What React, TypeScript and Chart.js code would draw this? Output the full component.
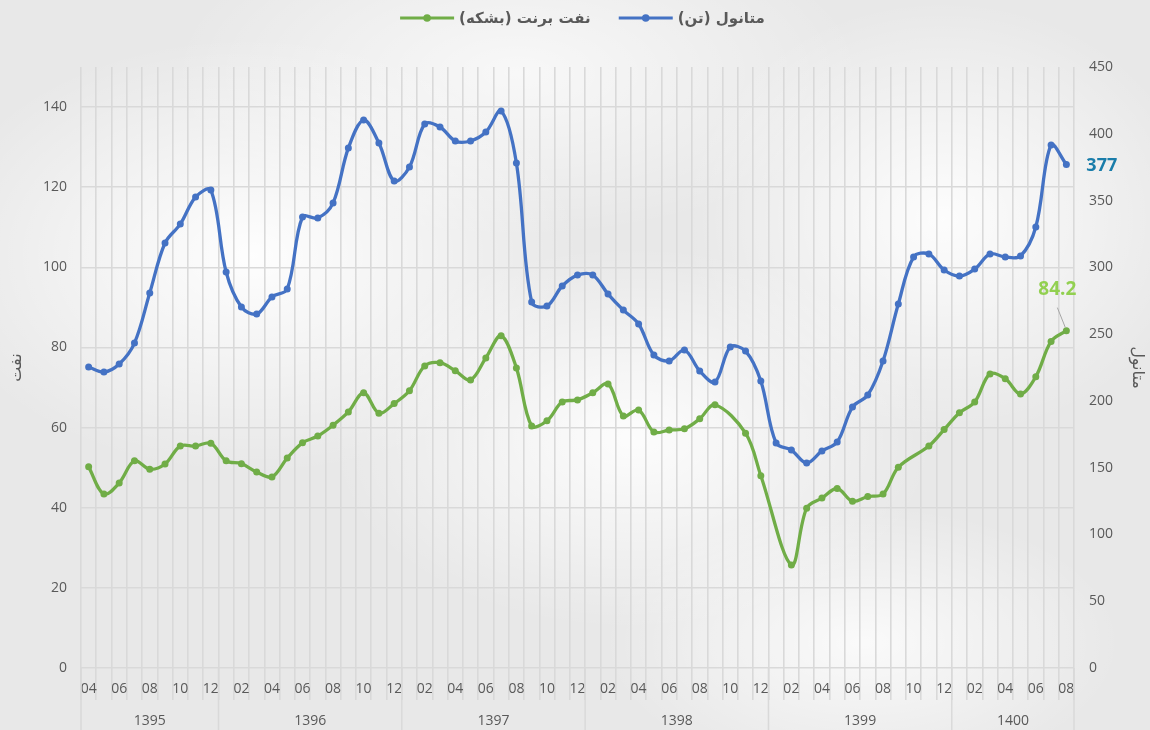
import React, { useEffect, useRef } from "react";
import { Chart, registerables } from "chart.js";

Chart.register(...registerables);

// ---------- DATA ----------
const months = [
  "04", "05", "06", "07", "08", "09", "10", "11", "12",
  "01", "02", "03", "04", "05", "06", "07", "08", "09", "10", "11", "12",
  "01", "02", "03", "04", "05", "06", "07", "08", "09", "10", "11", "12",
  "01", "02", "03", "04", "05", "06", "07", "08", "09", "10", "11", "12",
  "01", "02", "03", "04", "05", "06", "07", "08", "09", "10", "11", "12",
  "01", "02", "03", "04", "05", "06", "07", "08",
];
const yearLabels = ["1395", "1396", "1397", "1398", "1399", "1400"];
const yearMonthCounts = [9, 12, 12, 12, 12, 8];

// Brent oil (barrel) — left axis
const brentOil: (number | null)[] = [
  50.2, 43.4, 46.2, 51.7, 49.6, 50.9, 55.4, 55.4, 56.1,
  51.7, 51.0, 48.9, 47.7, 52.4, 56.2, 57.9, 60.6, 63.9, 68.7, 63.6, 66.0,
  69.2, 75.4, 76.2, 74.2, 71.9, 77.4, 82.9, 74.9, 60.4, 61.7, 66.4, 66.9,
  68.7, 70.9, 62.9, 64.4, 58.9, 59.4, 59.7, 62.2, 65.7, null, 58.6, 48.0,
  null, 25.7, 39.9, 42.4, 44.8, 41.6, 42.8, 43.4, 50.1, null, 55.4, 59.5,
  63.7, 66.4, 73.4, 72.2, 68.4, 72.7, 81.5, 84.2,
];

// Methanol (ton) — right axis
const methanol: number[] = [
  225.4, 221.6, 227.6, 243.3, 280.8, 318.2, 332.4, 352.6, 357.9,
  296.5, 270.3, 265.0, 277.8, 283.8, 337.7, 336.9, 348.2, 389.3, 410.3, 393.1, 364.6,
  375.1, 407.3, 405.1, 394.6, 394.6, 401.3, 417.0, 378.1, 274.0, 271.0, 286.0, 294.2,
  294.2, 280.0, 268.0, 257.6, 234.3, 229.9, 238.1, 222.4, 214.1, 240.3, 237.3, 214.9,
  168.5, 163.2, 153.5, 162.5, 169.2, 195.4, 204.4, 229.9, 272.5, 307.7, 310.0, 298.0,
  293.5, 298.7, 310.0, 307.7, 308.5, 330.2, 391.6, 377.0,
];

const seriesNames = ["نفت برنت (بشکه)", "متانول (تن)"];
const leftAxisTitle = "نفت";
const rightAxisTitle = "متانول";
const leftRange = [0, 150, 20];
const rightRange = [0, 450, 50];

// ---------- STYLE ----------
const GREEN = "#70AD47";
const BLUE = "#4472C4";
const GRID = "#D9D9D9";
const TEXT = "#595959";
const FONT = "'Open Sans', 'DejaVu Sans', sans-serif";
const AR_FONT = "'DejaVu Sans', sans-serif";

const legendPlugin = {
  id: "customLegend",
  afterDraw(chart: any) {
    const ctx = chart.ctx;
    const items = [
      { text: seriesNames[0], color: GREEN },
      { text: seriesNames[1], color: BLUE },
    ];
    ctx.save();
    ctx.font = `bold 15px ${AR_FONT}`;
    const iconW = 54, gapIcon = 5, gapItem = 28;
    const widths = items.map((it) => ctx.measureText(it.text).width);
    const total = widths.reduce((a, b) => a + b, 0) + items.length * (iconW + gapIcon) + gapItem * (items.length - 1);
    const ca = chart.chartArea;
    let x = (ca.left + ca.right) / 2 + 5 - total / 2;
    const y = 18;
    items.forEach((it, i) => {
      ctx.strokeStyle = it.color;
      ctx.lineWidth = 3;
      ctx.beginPath();
      ctx.moveTo(x, y);
      ctx.lineTo(x + iconW, y);
      ctx.stroke();
      ctx.fillStyle = it.color;
      ctx.beginPath();
      ctx.arc(x + iconW / 2, y, 3.8, 0, Math.PI * 2);
      ctx.fill();
      x += iconW + gapIcon;
      ctx.fillStyle = TEXT;
      ctx.textAlign = "left";
      ctx.textBaseline = "middle";
      (ctx as any).direction = "rtl";
      ctx.fillText(it.text, x, y + 1);
      (ctx as any).direction = "ltr";
      x += widths[i] + gapItem;
    });
    ctx.restore();
  },
};

const yearAxisPlugin = {
  id: "yearAxis",
  afterDraw(chart: any) {
    const ctx = chart.ctx;
    const xs = chart.scales.x;
    const bottom = chart.chartArea.bottom;
    const half = (xs.getPixelForValue(1) - xs.getPixelForValue(0)) / 2;
    ctx.save();
    ctx.strokeStyle = GRID;
    ctx.lineWidth = 1.5;
    ctx.fillStyle = TEXT;
    ctx.font = `14px ${FONT}`;
    ctx.textAlign = "center";
    ctx.textBaseline = "middle";
    let idx = 0;
    yearLabels.forEach((yl, k) => {
      const n = yearMonthCounts[k];
      const left = xs.getPixelForValue(idx) - half;
      const right = xs.getPixelForValue(idx + n - 1) + half;
      ctx.beginPath();
      ctx.moveTo(left, bottom);
      ctx.lineTo(left, chart.height);
      if (k === yearLabels.length - 1) {
        ctx.moveTo(right, bottom);
        ctx.lineTo(right, chart.height);
      }
      ctx.stroke();
      ctx.fillText(yl, (left + right) / 2, bottom + 53.5);
      idx += n;
    });
    ctx.restore();
  },
};

const dataLabelPlugin = {
  id: "lastLabels",
  afterDatasetsDraw(chart: any) {
    const ctx = chart.ctx;
    ctx.save();
    // methanol
    const mMeta = chart.getDatasetMeta(1);
    const mp = mMeta.data[mMeta.data.length - 1];
    ctx.font = `bold 18px ${FONT}`;
    ctx.fillStyle = "#1A7DAA";
    ctx.textAlign = "left";
    ctx.textBaseline = "middle";
    ctx.fillText(methanol[methanol.length - 1].toFixed(0), mp.x + 20, mp.y + 1);
    // brent
    const bMeta = chart.getDatasetMeta(0);
    const bp = bMeta.data[bMeta.data.length - 1];
    ctx.strokeStyle = "#A6A6A6";
    ctx.lineWidth = 1;
    ctx.beginPath();
    ctx.moveTo(bp.x - 9, bp.y - 23);
    ctx.lineTo(bp.x - 1, bp.y - 3);
    ctx.stroke();
    ctx.font = `bold 19px ${FONT}`;
    ctx.fillStyle = "#92D050";
    ctx.textAlign = "center";
    ctx.fillText((brentOil[brentOil.length - 1] as number).toFixed(1), bp.x - 9, bp.y - 41);
    ctx.restore();
  },
};

export default function App() {
  const canvasRef = useRef<HTMLCanvasElement | null>(null);

  useEffect(() => {
    document.body.style.margin = "0";
    const canvas = canvasRef.current;
    if (!canvas) return;
    const chart = new Chart(canvas, {
      type: "line",
      data: {
        labels: months,
        datasets: [
          {
            label: seriesNames[0],
            data: brentOil,
            yAxisID: "y",
            borderColor: GREEN,
            backgroundColor: GREEN,
            borderWidth: 3.3,
            pointRadius: 3.5,
            pointBorderWidth: 0,
            pointBackgroundColor: GREEN,
            tension: 0.35,
            spanGaps: true,
          },
          {
            label: seriesNames[1],
            data: methanol,
            yAxisID: "y1",
            borderColor: BLUE,
            backgroundColor: BLUE,
            borderWidth: 3.3,
            pointRadius: 3.5,
            pointBorderWidth: 0,
            pointBackgroundColor: BLUE,
            tension: 0.35,
          },
        ],
      },
      options: {
        responsive: false,
        animation: false,
        devicePixelRatio: 1,
        layout: { padding: { top: 67, left: 0, right: 0, bottom: 0 } },
        plugins: {
          legend: { display: false },
          tooltip: { enabled: false },
        },
        scales: {
          x: {
            type: "category",
            offset: true,
            grid: {
              offset: true,
              color: GRID,
              lineWidth: 1.6,
              drawTicks: true,
              tickLength: 32,
              tickColor: GRID,
            },
            border: { display: false },
            ticks: {
              autoSkip: false,
              maxRotation: 0,
              minRotation: 0,
              padding: -19,
              color: TEXT,
              font: { family: FONT, size: 14 },
              callback: (_v: any, i: number) => (i % 2 === 0 ? months[i] : ""),
            },
            afterFit: (s: any) => {
              s.height = 62;
            },
          },
          y: {
            position: "left",
            min: leftRange[0],
            max: leftRange[1],
            ticks: {
              stepSize: leftRange[2],
              padding: 14,
              color: TEXT,
              font: { family: FONT, size: 14 },
            },
            afterBuildTicks: (s: any) => {
              s.ticks = s.ticks.filter((t: any) => t.value % leftRange[2] === 0);
            },
            grid: { color: GRID, lineWidth: 1.6, drawTicks: false },
            border: { display: false },
            title: {
              display: true,
              text: leftAxisTitle,
              color: TEXT,
              font: { family: AR_FONT, size: 16 },
              padding: { top: 7, bottom: 0 },
            },
            afterFit: (s: any) => {
              s.width = 81;
            },
          },
          y1: {
            position: "right",
            min: rightRange[0],
            max: rightRange[1],
            ticks: {
              stepSize: rightRange[2],
              padding: 15,
              color: TEXT,
              font: { family: FONT, size: 14 },
            },
            grid: { display: false, drawTicks: false },
            border: { display: false },
            title: {
              display: true,
              text: rightAxisTitle,
              color: TEXT,
              font: { family: AR_FONT, size: 16 },
              padding: { top: 3, bottom: 0 },
            },
            afterFit: (s: any) => {
              s.width = 76;
            },
          },
        },
      } as any,
      plugins: [legendPlugin, yearAxisPlugin, dataLabelPlugin],
    });
    return () => chart.destroy();
  }, []);

  const bg =
    "radial-gradient(ellipse 38% 40% at 22% 35%, rgba(255,255,255,0.95), rgba(255,255,255,0) 75%)," +
    "radial-gradient(ellipse 35% 35% at 55% 60%, rgba(255,255,255,0.9), rgba(255,255,255,0) 75%)," +
    "radial-gradient(ellipse 30% 40% at 82% 30%, rgba(255,255,255,0.9), rgba(255,255,255,0) 75%)," +
    "radial-gradient(ellipse 40% 30% at 45% 10%, rgba(255,255,255,0.7), rgba(255,255,255,0) 75%)," +
    "radial-gradient(ellipse 30% 25% at 75% 88%, rgba(255,255,255,0.8), rgba(255,255,255,0) 75%)," +
    "#e8e8e8";

  return (
    <div style={{ position: "fixed", left: 0, top: 0, width: 1150, height: 730, background: bg }}>
      <canvas ref={canvasRef} width={1150} height={730} style={{ display: "block", width: 1150, height: 730 }} />
    </div>
  );
}
